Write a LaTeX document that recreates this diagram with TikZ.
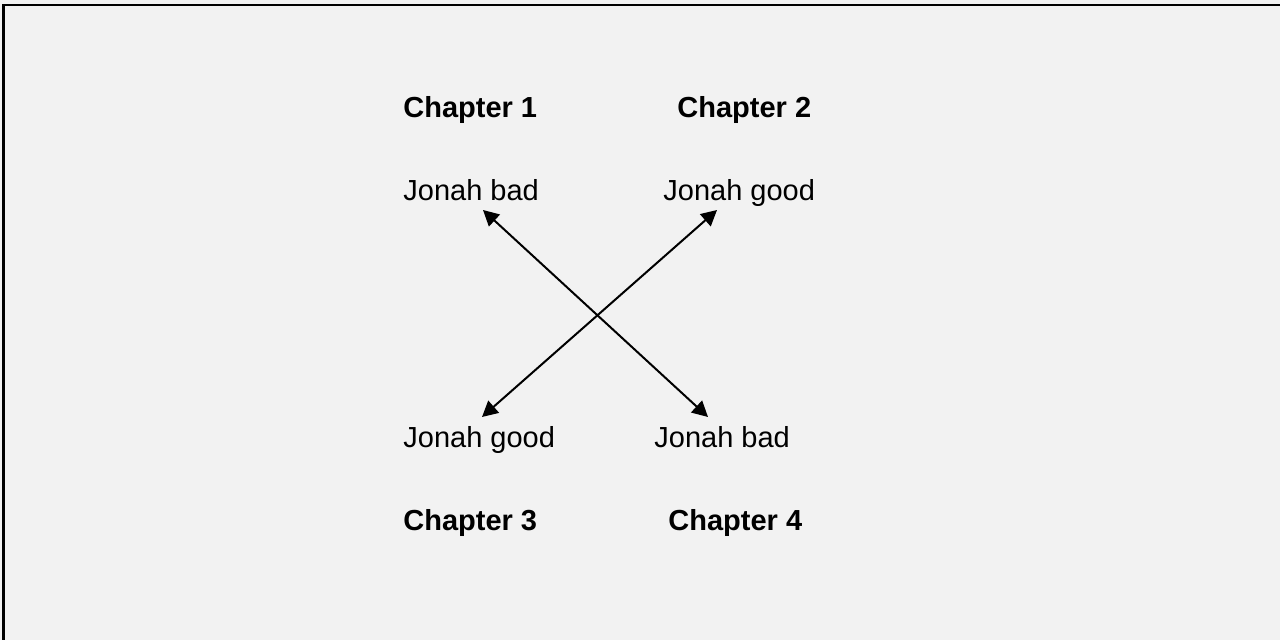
\documentclass[tikz,border=0pt]{standalone}
\usepackage{fontspec}
\setmainfont{Liberation Sans}
\usetikzlibrary{arrows.meta}
\tikzset{
  lbl/.style={inner sep=0pt, anchor=base west, font=\fontsize{14.5pt}{17pt}\selectfont},
  chap/.style={lbl, font=\fontsize{14.5pt}{17pt}\selectfont\bfseries},
  arr/.style={line width=1pt, {Triangle[length=7.8pt,width=8pt]}-{Triangle[length=7.8pt,width=8pt]}}
}
\begin{document}
\begin{tikzpicture}[x=0.5pt,y=-0.5pt]
\useasboundingbox (0,0) rectangle (1280,640);
\clip (0,0) rectangle (1280,640);
\fill[fill={rgb,255:red,242;green,242;blue,242}] (0,0) rectangle (1280,640);
\draw[line width=1.25pt] (3.5,5.2) rectangle (1300,660);
\node[chap] (c1) at (403,118) {Chapter 1};
\node[chap] (c2) at (677,118) {Chapter 2};
\node[chap] (c3) at (403,531) {Chapter 3};
\node[chap] (c4) at (668,531) {Chapter 4};
\node[lbl] (j1) at (403,201) {Jonah bad};
\node[lbl] (j2) at (663,201) {Jonah good};
\node[lbl] (j3) at (403,448) {Jonah good};
\node[lbl] (j4) at (654,448) {Jonah bad};
\coordinate (a1) at (483,210);
\coordinate (a4) at (708,417);
\coordinate (a2) at (717,210);
\coordinate (a3) at (482,417);
\draw[arr] (a1) -- (a4);
\draw[arr] (a3) -- (a2);
\end{tikzpicture}
\end{document}
